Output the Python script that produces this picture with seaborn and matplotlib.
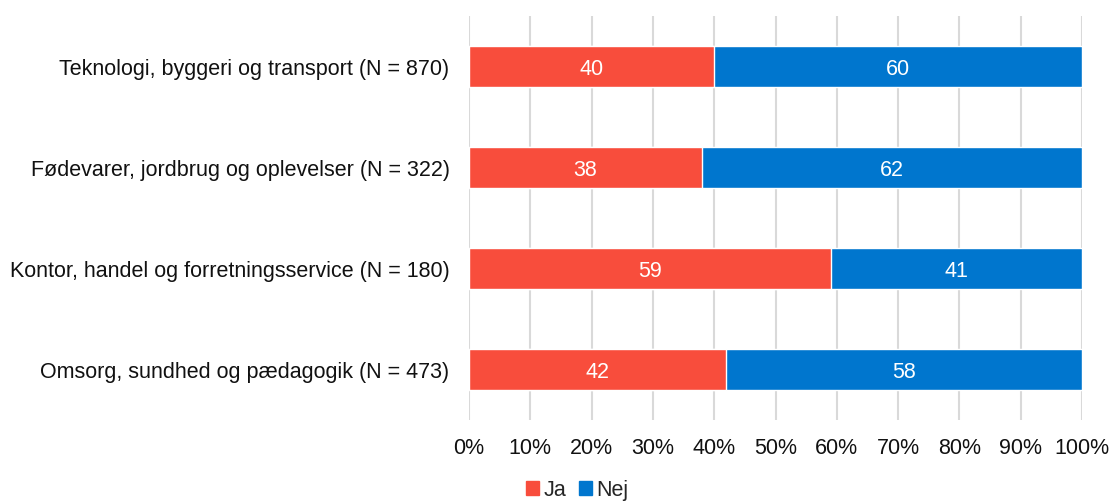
import pandas as pd
import seaborn as sns
from matplotlib import pyplot as plt
from matplotlib.patches import Patch

# data
categories = ["Teknologi, byggeri og transport (N = 870)",
              "Fødevarer, jordbrug og oplevelser (N = 322)",
              "Kontor, handel og forretningsservice (N = 180)",
              "Omsorg, sundhed og pædagogik (N = 473)"]
ja = [40, 38, 59, 42]
nej = [60, 62, 41, 58]
series = ["Ja", "Nej"]

red = "#F84D3C"
blue = "#0076CE"

df = pd.DataFrame({"cat": categories, "Ja": ja, "Nej": nej})
df["total"] = df["Ja"] + df["Nej"]

sns.set_style("white")
plt.rcParams["font.family"] = ["Liberation Sans", "DejaVu Sans"]

fig = plt.figure(figsize=(11.12, 5.03), dpi=100)
ax = fig.add_axes([0.4218, 0.165, 0.5512, 0.803])

# stacked: Nej drawn as the full length, Ja on top of it
sns.barplot(data=df, y="cat", x="total", color=blue, saturation=1, width=0.4, ax=ax, zorder=3)
sns.barplot(data=df, y="cat", x="Ja", color=red, saturation=1, width=0.4, ax=ax, zorder=3)

fs = 15.5
for i, (a, b) in enumerate(zip(ja, nej)):
    ax.text(a / 2, i, str(a), ha="center", va="center_baseline", color="white", fontsize=fs, zorder=4)
    ax.text(a + b / 2, i, str(b), ha="center", va="center_baseline", color="white", fontsize=fs, zorder=4)

ax.set_xlim(0, 100)
ax.set_ylim(3.5, -0.5)
ax.set_xticks(range(0, 101, 10))
ax.set_xticklabels([f"{v}%" for v in range(0, 101, 10)])
ax.grid(axis="x", color="#D9D9D9", lw=1.5, zorder=0)
ax.grid(axis="y", visible=False)
for s in ax.spines.values():
    s.set_visible(False)
ax.tick_params(axis="both", length=0, labelsize=fs, colors="#111111")
ax.tick_params(axis="x", pad=13)
ax.tick_params(axis="y", pad=14)
ax.set_xlabel("")
ax.set_ylabel("")

handles = [Patch(color=red, label=series[0]), Patch(color=blue, label=series[1])]
fig.legend(handles=handles, loc="lower center", bbox_to_anchor=(0.519, -0.034), ncol=2, frameon=False,
           fontsize=fs, handlelength=0.6, handleheight=0.6, handletextpad=0.2, columnspacing=0.6)

plt.savefig("out.png", dpi=100)
